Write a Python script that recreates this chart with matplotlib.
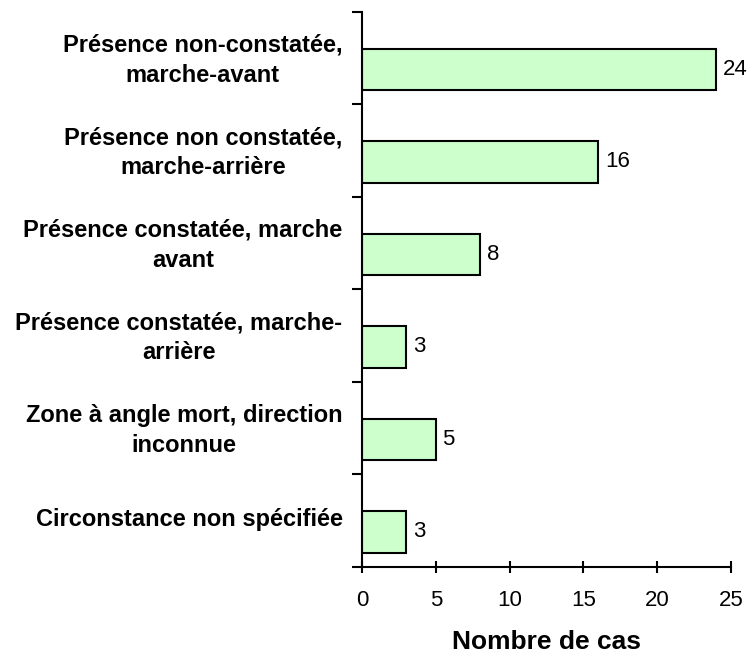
import matplotlib.pyplot as plt
import matplotlib.transforms as mtransforms
import numpy as np

plt.rcParams['font.family'] = ['Liberation Sans', 'DejaVu Sans']

categories = [
    'Présence non-constatée,\nmarche-avant',
    'Présence non constatée,\nmarche-arrière',
    'Présence constatée, marche\navant',
    'Présence constatée, marche-\narrière',
    'Zone à angle mort, direction\ninconnue',
    'Circonstance non spécifiée',
]
counts = [24, 16, 8, 3, 5, 3]

fig = plt.figure(figsize=(7.55, 6.58), dpi=100)
ax = fig.add_axes([0.4795, 0.1383, 0.4886, 0.8435])

pos = np.arange(len(categories)) + 0.5
# bars sit slightly below the category centre in the original
bar_pos = pos + 0.12
ax.barh(bar_pos, counts, height=0.45, color='#ccffcc', edgecolor='black', linewidth=1.5)

for p, v in zip(bar_pos, counts):
    ax.text(v + 0.45, p, str(v), va='center', ha='left', fontsize=16)

ax.set_xlim(0, 25)
ax.set_ylim(len(categories), 0)
ax.set_xticks(np.arange(0, 26, 5))
ax.tick_params(axis='x', direction='inout', length=9, width=1.5, labelsize=16, pad=12)

ax.set_yticks(pos)
ax.set_yticklabels(categories, fontsize=17, fontweight='bold',
                   multialignment='center', linespacing=1.4)
ax.set_yticks(np.arange(0, len(categories) + 1), minor=True)
ax.tick_params(axis='y', which='major', length=0, pad=14)
ax.tick_params(axis='y', which='minor', direction='out', length=7, width=1.5)

shift = mtransforms.ScaledTranslation(0, 4 / 100, fig.dpi_scale_trans)
for lab in ax.get_yticklabels():
    lab.set_transform(lab.get_transform() + shift)

for s in ['top', 'right']:
    ax.spines[s].set_visible(False)
ax.spines['left'].set_linewidth(1.5)
ax.spines['bottom'].set_linewidth(1.5)

ax.set_xlabel('Nombre de cas', fontsize=19, fontweight='bold', labelpad=14)

plt.savefig('out.png', dpi=100)
plt.close(fig)
